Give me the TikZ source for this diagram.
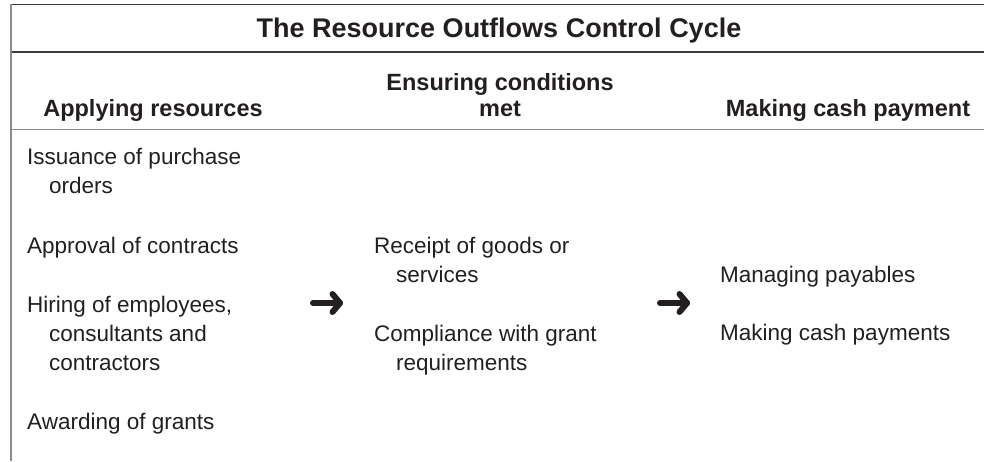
\documentclass[tikz,border=0pt]{standalone}
\usepackage{fontspec}
\setmainfont{Liberation Sans}
\usepackage{tikz}
\usetikzlibrary{calc}
\definecolor{ink}{HTML}{231F20}
\definecolor{rulegray}{HTML}{8C8C8C}
\definecolor{ruledark}{HTML}{3C3C3C}
\tikzset{
  item/.style={anchor=base west, inner sep=0pt, align=left, text=ink,
    font=\fontsize{22.5}{29}\selectfont},
  colhead/.style={anchor=base, inner sep=0pt, align=center, text=ink,
    font=\bfseries\fontsize{23.5}{26}\selectfont},
  heavy/.style={draw=ink, line width=6pt, line cap=round, line join=round}
}
\newcommand{\hang}{\hspace*{22pt}}

\begin{document}
\begin{tikzpicture}[x=1pt,y=-1pt]

\useasboundingbox (0,0) rectangle (984,461);

% frame rules
\draw [ruledark, line width=1.5pt] (11,4.5) -- (984,4.5);
\draw [ruledark, line width=1.5pt] (11,52) -- (984,52);
\draw [rulegray, line width=1.5pt] (11,129.5) -- (984,129.5);
\draw [rulegray, line width=1.5pt] (11,3.75) -- (11,461);

\node (title) [anchor=base, inner sep=0pt, text=ink, font=\bfseries\fontsize{27}{30}\selectfont]
  at (499,37) {The Resource Outflows Control Cycle};

% column headings
\node (colA) [colhead] at (153,116) {Applying resources};
\node (colB) [colhead] at (500,116) {Ensuring conditions\\met};
\node (colC) [colhead] at (848,116) {Making cash payment};

% first column
\node (iss) [item] at (27,193) {Issuance of purchase\\\hang orders};
\node (appr) [item] at (27,253) {Approval of contracts};
\node (hire) [item] at (27,370) {Hiring of employees,\\\hang consultants and\\\hang contractors};
\node (award) [item] at (27,429) {Awarding of grants};

% second column
\node (rcpt) [item] at (374,282) {Receipt of goods or\\\hang services};
\node (comp) [item] at (374,370) {Compliance with grant\\\hang requirements};

% third column
\node (pay) [item] at (720,282) {Managing payables};
\node (cash) [item] at (720,340) {Making cash payments};

% arrows between the columns
\coordinate (arrA) at (313,303);
\coordinate (arrAtip) at (340,303);
\coordinate (arrB) at (660,303);
\coordinate (arrBtip) at (687,303);
\foreach \a/\b in {arrA/arrAtip, arrB/arrBtip} {
  \draw [heavy] (\a) -- (\b);
  \draw [heavy] (\b) ++(-7.5,-9) -- (\b) -- ++(-7.5,9);
}

\end{tikzpicture}
\end{document}
